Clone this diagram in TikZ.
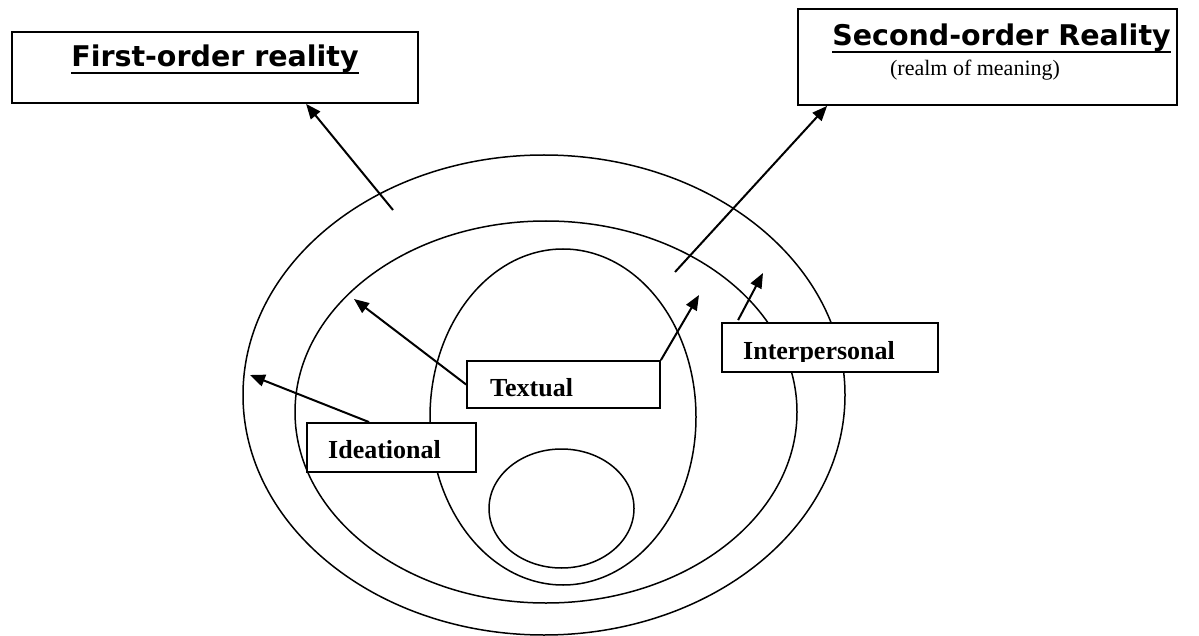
\documentclass[tikz,border=0pt]{standalone}
\usepackage{fontspec}
\setmainfont{Liberation Serif}
\newfontfamily\headfont{DejaVu Sans}
\usetikzlibrary{arrows.meta,shapes.geometric,calc}

\begin{document}
\begin{tikzpicture}[x=1pt,y=-1pt,
  ring/.style={draw, ellipse, line width=1.5pt, inner sep=0pt},
  frame/.style={draw, rectangle, fill=white, line width=1.8pt, inner sep=0pt},
  lbl/.style={font=\fontsize{26}{30}\selectfont\bfseries, inner sep=0pt, anchor=base west},
  head/.style={font=\headfont\bfseries\fontsize{28.5}{32}\selectfont, inner sep=0pt, anchor=base},
  sub/.style={font=\fontsize{22}{26}\selectfont, inner sep=0pt, anchor=base},
  uline/.style={line width=2.2pt},
  arr/.style={line width=2pt, -{Triangle[length=15pt,width=12pt]}},
]
\useasboundingbox (0,0) rectangle (1199,636);

% nested realms
\node[ring, minimum width=602pt, minimum height=480pt] (outer)  at (544,395)   {};
\node[ring, minimum width=502pt, minimum height=382pt] (middle) at (546,412)   {};
\node[ring, minimum width=266pt, minimum height=336pt] (inner)  at (563,417)   {};
\node[ring, minimum width=145pt, minimum height=119pt] (core)   at (561.5,508.5) {};

% heading boxes
\node[frame, minimum width=406pt, minimum height=71pt] (first)  at (215,67.5) {};
\node[frame, minimum width=379pt, minimum height=96pt] (second) at (987.5,57) {};

\node[head] (firsthead) at (215,67) {First-order reality};
\draw[uline] ($(firsthead.base west)+(0,6)$) -- ($(firsthead.base east)+(0,6)$);

\node[head] (secondhead) at (1001.5,46) {Second-order Reality};
\draw[uline] ($(secondhead.base west)+(0,6)$) -- ($(secondhead.base east)+(0,6)$);
\node[sub] (realm) at (975,76) {(realm of meaning)};

% metafunction boxes
\node[frame, minimum width=193pt, minimum height=47pt] (textual)       at (563.5,384.5) {};
\node[frame, minimum width=169pt, minimum height=49pt] (ideational)    at (391.5,447.5) {};
\node[frame, minimum width=216pt, minimum height=49pt] (interpersonal) at (830,347.5)   {};

\node[lbl] (textuallbl) at (490,396) {Textual};
\node[lbl] (ideationallbl) at (328,458) {Ideational};
\begin{scope}
  \clip (722,323) rectangle (938,361);
  \node[lbl] (interpersonallbl) at (743,359) {Interpersonal};
\end{scope}

% arrows
\coordinate (p1) at (393,210);
\coordinate (p2) at (675,272);
\coordinate (p3) at (354,299);
\coordinate (p4) at (699,295);
\coordinate (p5) at (250,375);
\coordinate (p6) at (763,273);

\draw[arr] (p1) -- ([xshift=295pt]first.south west);
\draw[arr] (p2) -- ([xshift=30pt]second.south west);
\draw[arr] (textual.west) -- (p3);
\draw[arr] (textual.north east) -- (p4);
\draw[arr] ([xshift=63pt]ideational.north west) -- (p5);
\draw[arr] ([xshift=17pt,yshift=2pt]interpersonal.north west) -- (p6);
\end{tikzpicture}
\end{document}
